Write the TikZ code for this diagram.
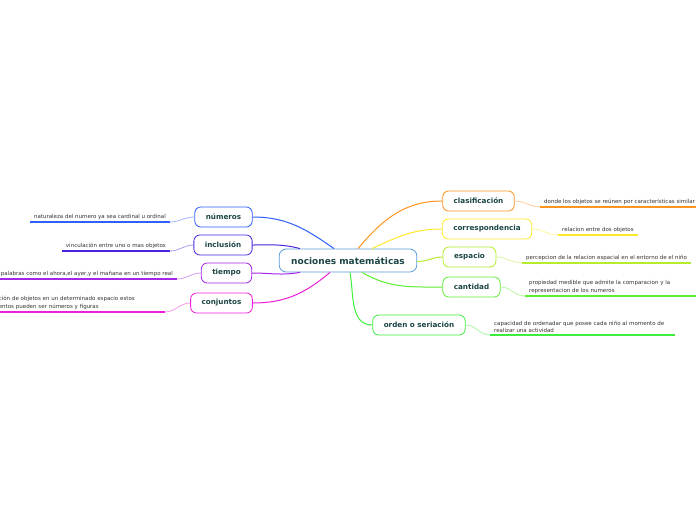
\documentclass[tikz,border=0pt]{standalone}
\usepackage{fontspec}
\setmainfont{DejaVu Sans}
\usepackage{tikz}
\usetikzlibrary{arrows.meta}
\usepackage{xcolor}

\definecolor{rootblue}{HTML}{5B9BD5}
\definecolor{nodetext}{HTML}{1B4545}
\definecolor{leaftext}{HTML}{333333}
\definecolor{cnum}{HTML}{2F5FFF}
\definecolor{cinc}{HTML}{4A22E0}
\definecolor{ctie}{HTML}{A526EA}
\definecolor{ccon}{HTML}{EE1FD8}
\definecolor{ccla}{HTML}{FF9420}
\definecolor{ccor}{HTML}{FFE82A}
\definecolor{cesp}{HTML}{B5EC2E}
\definecolor{ccan}{HTML}{5CEE30}
\definecolor{cord}{HTML}{3EEE3E}

\begin{document}
\begin{tikzpicture}[
				x=1pt, y=-1pt,
				root/.style = {draw=rootblue, thick, rounded corners=7pt, fill=white, text=nodetext,
					font=\fontsize{9}{10}\selectfont\bfseries, minimum height=23pt, inner xsep=12pt},
				topic/.style = {draw=#1, thick, rounded corners=6pt, fill=white, text=nodetext,
					font=\fontsize{7.2}{8}\selectfont\bfseries, minimum height=20pt, inner xsep=11pt},
				leaf/.style = {text=leaftext, font=\fontsize{5.5}{7.2}\selectfont, inner xsep=4pt, inner ysep=2.5pt, align=left},
				branch/.style = {draw=#1, line width=1pt},
				twig/.style = {draw=#1!45, line width=0.8pt},
				uline/.style = {draw=#1, line width=1.6pt}
				]
				
				\fill[white] (0,0) rectangle (696,520);
				\useasboundingbox (0,0) rectangle (696,520);
				
				\node[root] (R) at (348,260.5) {nociones matemáticas};
				
				\node[topic=cnum] (N) at (223.5,217) {números};
				\node[topic=cinc] (I) at (223,245) {inclusión};
				\node[topic=ctie] (T) at (226.5,273) {tiempo};
				\node[topic=ccon] (C) at (221.5,303) {conjuntos};
				\node[topic=ccla] (K) at (478.5,201) {clasificación};
				\node[topic=ccor] (P) at (487,229) {correspondencia};
				\node[topic=cesp] (E) at (469.5,257) {espacio};
				\node[topic=ccan] (Q) at (471.5,287) {cantidad};
				\node[topic=cord] (O) at (419,325) {orden o seriación};
				
				\node[leaf, anchor=south east] (Nt) at (170,222) {naturaleza del numero ya sea cardinal u ordinal};
				\node[leaf, anchor=south east] (It) at (170,251) {vinculación entre uno o mas objetos};
				\node[leaf, anchor=south east] (Tt) at (177,279) {palabras como el ahora,el ayer,y el mañana en un tiempo real};
				\node[leaf, anchor=south east, text width=162pt] (Ct) at (165,312) {ción de objetos en un determinado espacio estos\\entos pueden ser números y figuras};
				\node[leaf, anchor=south west] (Kt) at (540,207) {donde los objetos se reúnen por características similar};
				\node[leaf, anchor=south west] (Pt) at (558,235) {relacion entre dos objetos};
				\node[leaf, anchor=south west] (Et) at (522,263) {percepcion de la relacion espacial en el entorno de el niño};
				\node[leaf, anchor=south west, text width=180pt] (Qt) at (525,296) {propiedad medible que admite la comparacion y la\\representacion de los numeros};
				\node[leaf, anchor=south west, text width=177pt] (Ot) at (490,335) {capacidad de ordenadar que posee cada niño al momento de\\realizar una actividad};
				
				\draw[branch=cnum] ([xshift=-14pt]R.north) to[out=145, in=0] (N.east);
				\draw[branch=cinc] ([xshift=-48pt]R.north) to[out=165, in=0] (I.east);
				\draw[branch=ctie] ([xshift=-48pt]R.south) to[out=190, in=0] (T.east);
				\draw[branch=ccon] ([xshift=-18pt]R.south) to[out=220, in=0] (C.east);
				\draw[branch=ccla] ([xshift=10pt]R.north) to[out=50, in=180] (K.west);
				\draw[branch=ccor] ([xshift=24pt]R.north) to[out=25, in=180] (P.west);
				\draw[branch=cesp] ([yshift=-1pt]R.east) to[out=0, in=180] (E.west);
				\draw[branch=ccan] ([xshift=14pt]R.south) to[out=-30, in=180] (Q.west);
				\draw[branch=cord] ([xshift=2pt]R.south) to[out=-80, in=180] (O.west);
				
				\draw[twig=cnum] (N.west) to[out=180, in=0] (Nt.south east);
				\draw[twig=cinc] (I.west) to[out=180, in=0] (It.south east);
				\draw[twig=ctie] (T.west) to[out=180, in=0] (Tt.south east);
				\draw[twig=ccon] (C.west) to[out=180, in=0] (Ct.south east);
				\draw[twig=ccla] (K.east) to[out=0, in=180] (Kt.south west);
				\draw[twig=ccor] (P.east) to[out=0, in=180] (Pt.south west);
				\draw[twig=cesp] (E.east) to[out=0, in=180] (Et.south west);
				\draw[twig=ccan] (Q.east) to[out=0, in=180] (Qt.south west);
				\draw[twig=cord] (O.east) to[out=0, in=180] (Ot.south west);
				
				\draw[uline=cnum] (Nt.south east) -- (Nt.south west);
				\draw[uline=cinc] (It.south east) -- (It.south west);
				\draw[uline=ctie] (Tt.south east) -- (Tt.south west);
				\draw[uline=ccon] (Ct.south east) -- (Ct.south west);
				\draw[uline=ccla] (Kt.south west) -- (Kt.south east);
				\draw[uline=ccor] (Pt.south west) -- (Pt.south east);
				\draw[uline=cesp] (Et.south west) -- (Et.south east);
				\draw[uline=ccan] (Qt.south west) -- (Qt.south east);
				\draw[uline=cord] (Ot.south west) -- (Ot.south east);
			\end{tikzpicture}
\end{document}
